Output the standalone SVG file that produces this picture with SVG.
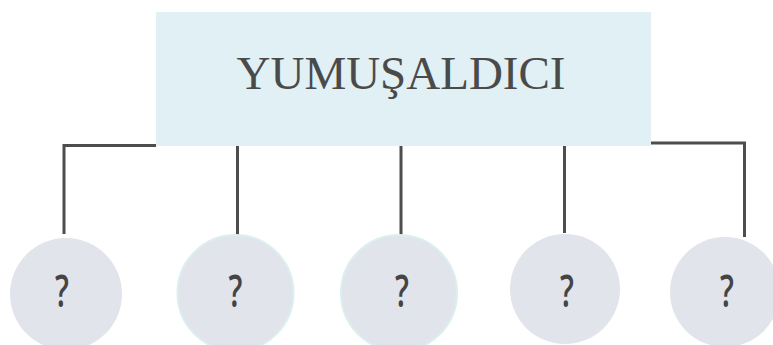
<svg xmlns="http://www.w3.org/2000/svg" width="773" height="345" viewBox="0 0 773 345">
<style>
.conn{stroke:#4d4d4d;stroke-width:3;fill:none}
.c{fill:#e1e4eb}
.c2{fill:#e1e4eb;stroke:#dcefef;stroke-width:2}
.q{font-family:"Open Sans","Noto Sans",sans-serif;font-weight:600;font-size:45px;fill:#444;text-anchor:middle}
.title{font-family:"Liberation Serif","DejaVu Serif",serif;font-size:47px;fill:#4a4a4a;text-anchor:middle}
</style>
<rect width="773" height="345" fill="#fff"/>
<g id="connectors">
<path class="conn" d="M156 145.5 H64 V234"/>
<path class="conn" d="M237.5 146 V235"/>
<path class="conn" d="M401 146 V235"/>
<path class="conn" d="M564.5 146 V233"/>
<path class="conn" d="M651 143 H744.5 V237"/>
</g>
<g id="root">
<rect x="156" y="12" width="495" height="134" fill="#e0f0f4"/>
<text class="title" x="401" y="89">YUMUŞALDICI</text>
</g>
<g id="n1"><circle class="c" cx="66" cy="294" r="56"/><text class="q" transform="translate(62 307) scale(0.68 1)">?</text></g>
<g id="n2"><circle class="c2" cx="235.5" cy="293" r="58"/><text class="q" transform="translate(235.5 307) scale(0.68 1)">?</text></g>
<g id="n3"><circle class="c2" cx="399" cy="293" r="58"/><text class="q" transform="translate(402 307) scale(0.68 1)">?</text></g>
<g id="n4"><circle class="c" cx="565" cy="289" r="55"/><text class="q" transform="translate(567 307) scale(0.68 1)">?</text></g>
<g id="n5"><circle class="c" cx="725" cy="292" r="55"/><text class="q" transform="translate(727 307) scale(0.68 1)">?</text></g>
</svg>
